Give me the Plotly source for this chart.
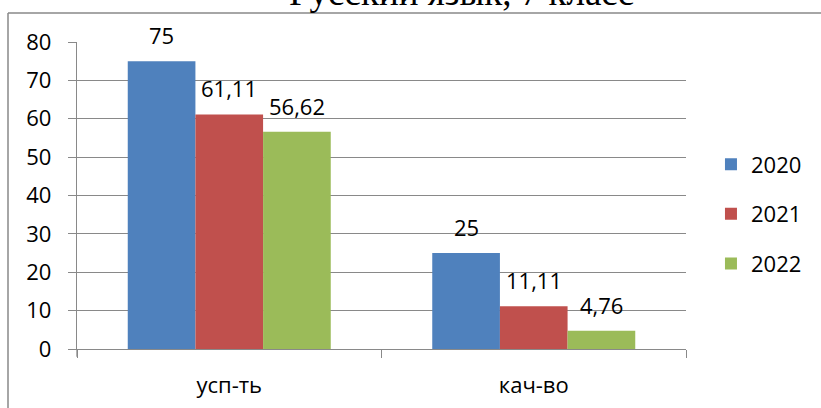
import plotly.graph_objects as go

categories = ["усп-ть", "кач-во"]
years = ["2020", "2021", "2022"]
values_2020 = [75, 25]
values_2021 = [61.11, 11.11]
values_2022 = [56.62, 4.76]
label_2020 = ["75", "25"]
label_2021 = ["61,11", "11,11"]
label_2022 = ["56,62", "4,76"]
y_ticks = [0, 10, 20, 30, 40, 50, 60, 70, 80]
title_text = "Русский язык, 7 класс"

colors = ["#4F81BD", "#C0504D", "#9BBB59"]
series = [values_2020, values_2021, values_2022]
labels = [label_2020, label_2021, label_2022]

FONT = "Open Sans"
GRID = "#898989"

fig = go.Figure()
for i, (name, vals) in enumerate(zip(years, series)):
    fig.add_trace(go.Bar(
        x=categories, y=vals, name=name,
        marker=dict(color=colors[i], line=dict(width=0)),
        legendgroup=name,
    ))

# data labels above bars
bar_px = 67.7
offsets = [-bar_px, 0, bar_px]
for i, labs in enumerate(labels):
    for c, v, t in zip(categories, series[i], labs):
        fig.add_annotation(x=c, y=v, text=t, showarrow=False,
                           xref="x", yref="y", xshift=offsets[i],
                           yanchor="bottom", yshift=9,
                           font=dict(family=FONT, size=22, color="#000"))

# title (cut off at top)
fig.add_annotation(x=0.6314, y=1.0862, xref="paper", yref="paper",
                   text=title_text, showarrow=False,
                   yanchor="bottom", xanchor="center", yshift=1,
                   font=dict(family="Liberation Serif", size=37, color="#000"))

# frame lines
fig.add_shape(type="line", xref="paper", yref="paper",
              x0=-0.1133, x1=1.25, y0=1.0944, y1=1.0944,
              line=dict(color=GRID, width=1.5))
fig.add_shape(type="line", xref="paper", yref="paper",
              x0=-0.1133, x1=-0.1133, y0=1.0944, y1=-0.3,
              line=dict(color=GRID, width=1.5))
# y-axis line extension below zero
fig.add_shape(type="line", xref="paper", yref="paper",
              x0=0, x1=0, y0=0, y1=-0.025,
              line=dict(color=GRID, width=1.3))

fig.update_layout(
    width=821, height=408,
    margin=dict(l=77, r=135, t=42, b=59, autoexpand=False),
    paper_bgcolor="white", plot_bgcolor="white",
    barmode="group", bargap=1/3, bargroupgap=0,
    font=dict(family=FONT, size=22, color="#000"),
    showlegend=True,
    legend=dict(x=1.041, xanchor="left", y=0.44, yanchor="middle",
                traceorder="grouped", tracegroupgap=18,
                font=dict(family=FONT, size=22, color="#000"),
                bgcolor="rgba(0,0,0,0)"),
)
fig.update_yaxes(range=[0, 80], tickvals=y_ticks, showgrid=True,
                 gridcolor=GRID, gridwidth=1.3, showline=True,
                 linecolor=GRID, linewidth=1.3, ticks="outside",
                 ticklen=8, tickcolor=GRID, tickwidth=1.3,
                 ticklabelstandoff=12, zeroline=False, automargin=False)
fig.update_xaxes(showline=True, linecolor=GRID, linewidth=1.3,
                 ticks="outside", tickson="boundaries", ticklen=8,
                 tickcolor=GRID, tickwidth=1.3, ticklabelstandoff=16,
                 showgrid=False, automargin=False)

fig.write_html("out.html", config={"displayModeBar": False},
               post_script="document.body.style.margin='0';document.body.style.overflow='hidden';")
